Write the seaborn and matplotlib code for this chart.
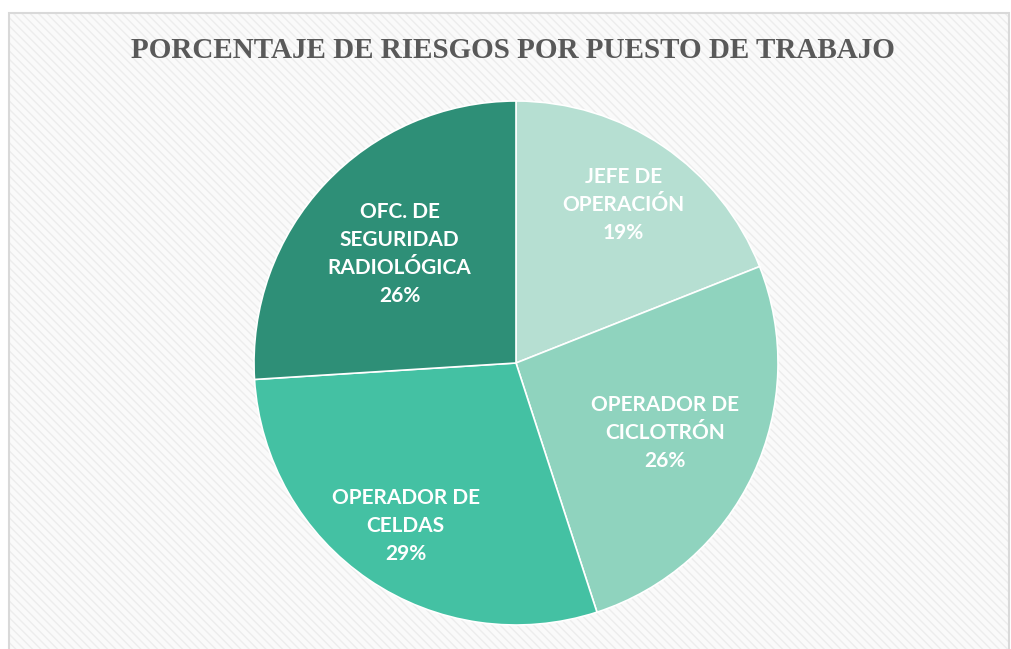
import seaborn as sns
import matplotlib.pyplot as plt
from matplotlib.patches import Rectangle
import numpy as np

puestos = ['JEFE DE\nOPERACIÓN', 'OPERADOR DE\nCICLOTRÓN', 'OPERADOR DE\nCELDAS',
           'OFC. DE\nSEGURIDAD\nRADIOLÓGICA']
porcentajes = [19, 26, 29, 26]
colores = ['#B6DFD2', '#8FD3BE', '#44C1A3', '#2E8F77']
# radial position of each data label (fraction of radius), as in the original
dist_etiquetas = [0.73, 0.63, 0.75, 0.61]

sns.set_theme(style='white')
plt.rcParams['font.family'] = ['Lato', 'DejaVu Sans']

W, H = 1011, 649
fig = plt.figure(figsize=(W / 100, H / 100), dpi=100)
fig.patch.set_facecolor('white')

# chart area background (light hatched panel with grey border)
caja = (9 / W, -0.01), 1000 / W, 1 - 13 / H + 0.01
fig.patches.append(Rectangle(*caja, transform=fig.transFigure,
                             facecolor='#FAFAFA', edgecolor='none', zorder=-3))
fig.patches.append(Rectangle(*caja, transform=fig.transFigure,
                             facecolor='none', edgecolor='#EDEDED', hatch='\\\\\\\\', linewidth=0, zorder=-2))
fig.patches.append(Rectangle(*caja, transform=fig.transFigure,
                             facecolor='none', edgecolor='#D9D9D9', linewidth=1.5, zorder=-1))

cx, cy, r = 516, 363, 262
ax = fig.add_axes([(cx - r) / W, (H - cy - r) / H, 2 * r / W, 2 * r / H])
ax.set_zorder(2)
ax.set_facecolor('none')

wedges, _ = ax.pie(porcentajes, colors=colores, startangle=90, counterclock=False, radius=1,
                   wedgeprops=dict(edgecolor='white', linewidth=1.2))
ax.set_xlim(-1, 1)
ax.set_ylim(-1, 1)
ax.set_aspect('equal')
ax.axis('off')

for w, nombre, pct, d in zip(wedges, puestos, porcentajes, dist_etiquetas):
    ang = np.deg2rad((w.theta1 + w.theta2) / 2)
    ax.text(d * np.cos(ang), d * np.sin(ang), f'{nombre}\n{pct}%', ha='center', va='center',
            color='white', fontsize=15, fontweight='bold', linespacing=1.5)

fig.text(513 / W, 1 - 51 / H, 'PORCENTAJE DE RIESGOS POR PUESTO DE TRABAJO',
         ha='center', va='center', fontsize=21, fontweight='bold', color='#595959',
         family=['Liberation Serif', 'DejaVu Serif'])

fig.savefig('out.png', dpi=100)
